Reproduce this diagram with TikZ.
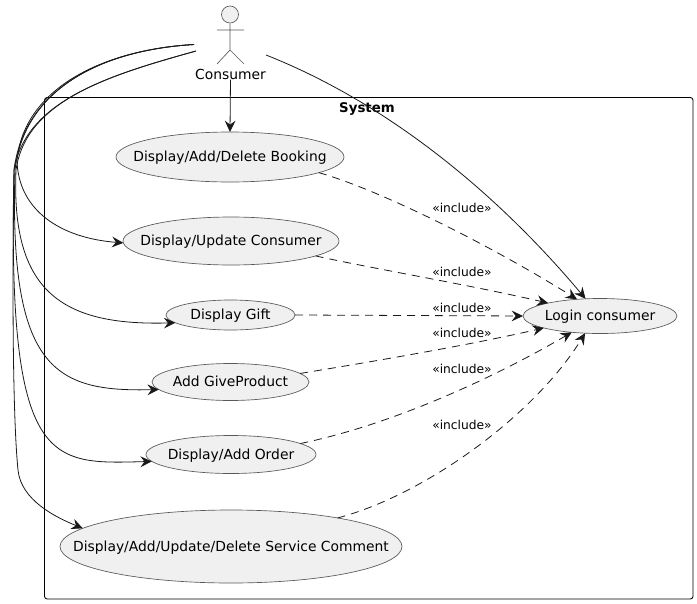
\documentclass[tikz,border=0pt]{standalone}
\usepackage{fontspec}
\setmainfont{DejaVu Sans}
\usetikzlibrary{arrows.meta,shapes.geometric}
\newcommand\ct[1]{\makebox[0pt]{\raisebox{-.36em}[0pt][0pt]{#1}}}
\tikzset{
  uc/.style={ellipse,draw=black!65,fill=black!6,line width=.5pt,inner sep=0pt,outer sep=0pt,font=\fontsize{10.4pt}{12pt}\selectfont},
  rel/.style={draw=black!90,line width=.6pt,-{Stealth[length=8.5pt,width=8pt,inset=3pt]}},
  inc/.style={rel,dash pattern=on 6pt off 4.5pt},
  lab/.style={inner sep=0pt,font=\fontsize{9.2pt}{10pt}\selectfont},
  actorline/.style={draw=black!65,line width=.5pt}
}
\begin{document}
\begin{tikzpicture}[x=.75pt,y=-.75pt]
\useasboundingbox (0,0) rectangle (697,604);
\node[draw=black,line width=.65pt,rounded corners=2pt,minimum width=648.5*.75pt,minimum height=501.5*.75pt,inner sep=0pt] (sys) at (368.75,348.25) {};
\node[inner sep=0pt,font=\bfseries\fontsize{10pt}{12pt}\selectfont] (systitle) at (367,109) {System};
% actor
\node[circle,draw=black!65,fill=black!6,line width=.5pt,minimum size=17*.75pt,inner sep=0pt] (head) at (230,14.5) {};
\coordinate (hip) at (230,50);
\coordinate (armL) at (217,30);
\coordinate (armR) at (244,30);
\coordinate (footL) at (217,64);
\coordinate (footR) at (244,64);
\draw[actorline] (head.south) -- (hip) (armL) -- (armR) (footL) -- (hip) -- (footR);
\node[inner sep=0pt,font=\fontsize{10.4pt}{12pt}\selectfont] (consumer) at (230.5,74) {Consumer};
% use cases
\node[uc,minimum width=228*.75pt,minimum height=50*.75pt] (booking) at (230,157) {\ct{Display/Add/Delete Booking}};
\node[uc,minimum width=216*.75pt,minimum height=48*.75pt] (update) at (231,241) {\ct{Display/Update Consumer}};
\node[uc,minimum width=129*.75pt,minimum height=30*.75pt] (gift) at (230.5,315) {\ct{Display Gift}};
\node[uc,minimum width=157*.75pt,minimum height=37*.75pt] (give) at (230.5,382) {\ct{Add GiveProduct}};
\node[uc,minimum width=170*.75pt,minimum height=38*.75pt] (order) at (231,454.5) {\ct{Display/Add Order}};
\node[uc,minimum width=342*.75pt,minimum height=73*.75pt] (service) at (231,546.5) {\ct{Display/Add/Update/Delete Service Comment}};
\node[uc,minimum width=154*.75pt,minimum height=35*.75pt] (login) at (600,316) {\ct{Login consumer}};
% actor ports
\coordinate (pa) at (194,44.5);
\coordinate (pb) at (196,51);
\coordinate (pc) at (266,55);
% solid
\draw[rel] (consumer.south) -- (booking.north);
\draw[rel] (pc) .. controls (380,100) and (490,185) .. (login.130);
\draw[rel] (pa) .. controls (100,50) and (24,90) .. (17,160) .. controls (18,210) and (60,238) .. (update.181);
\draw[rel] (pb) .. controls (110,75) and (26,100) .. (16,170) .. controls (11,290) and (60,326) .. (gift.188.7);
\draw[rel] (pa) .. controls (100,50) and (24,90) .. (15,170) .. controls (9,370) and (55,392) .. (give.186.4);
\draw[rel] (pb) .. controls (110,75) and (26,100) .. (14,170) .. controls (7,470) and (50,464) .. (order.185);
\draw[rel] (pa) .. controls (100,50) and (24,90) .. (14,170) .. controls (12,300) and (13,420) .. (18,470) .. controls (21,500) and (55,517) .. (service.173.4);
% dashed
\draw[inc] (booking.-10.4) .. controls (380,190) and (490,245) .. (login.144);
\draw[inc] (update.-10.1) .. controls (370,268) and (470,285) .. (login.166);
\draw[inc] (gift.east) -- (login.west);
\draw[inc] (give.7.7) .. controls (370,362) and (470,345) .. (login.-168);
\draw[inc] (order.9.5) .. controls (390,425) and (490,380) .. (login.-150);
\draw[inc] (service.15.8) .. controls (425,495) and (535,415) .. (login.-131);
\node[lab] (l1) at (462,208) {«include»};
\node[lab] (l2) at (462,272) {«include»};
\node[lab] (l3) at (462,308) {«include»};
\node[lab] (l4) at (462,333) {«include»};
\node[lab] (l5) at (462,369) {«include»};
\node[lab] (l6) at (462,425) {«include»};
\end{tikzpicture}
\end{document}
